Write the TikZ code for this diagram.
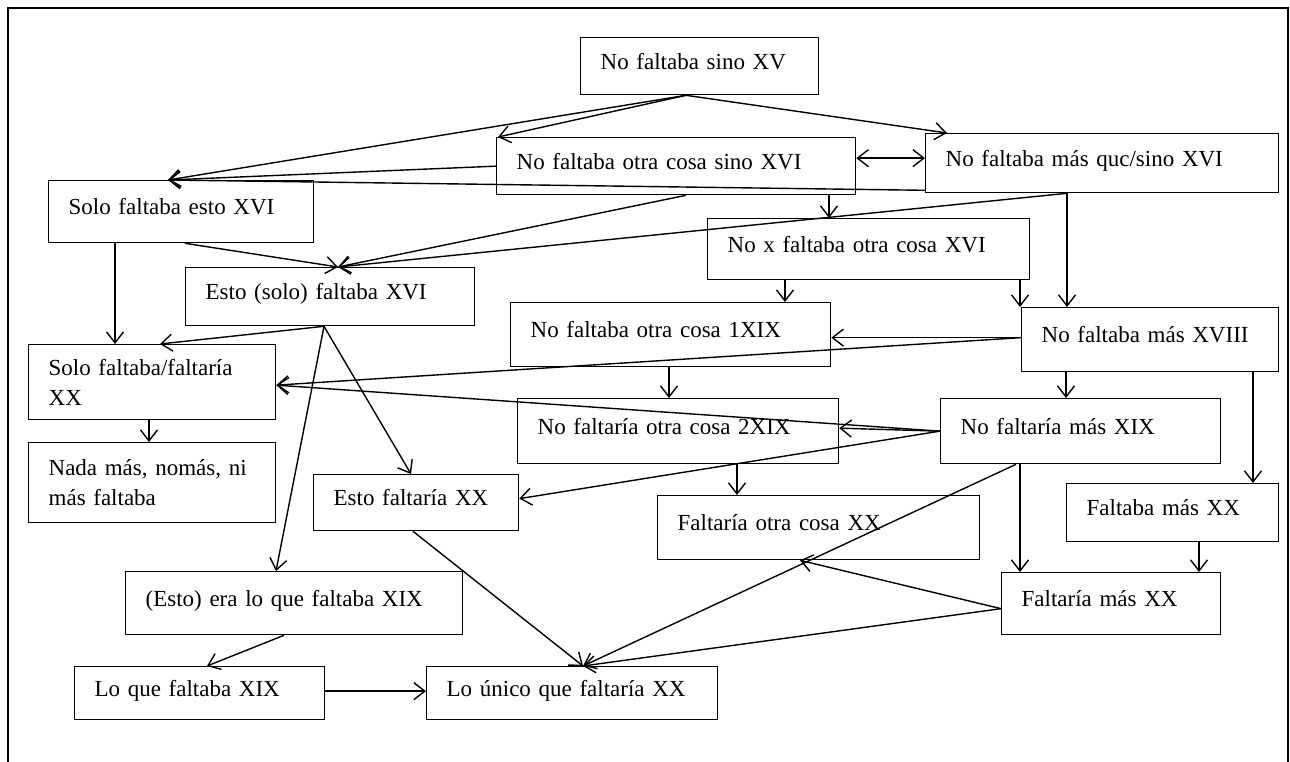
\documentclass[tikz,border=0pt]{standalone}
\usepackage{fontspec}
\setmainfont{Liberation Serif}
\usetikzlibrary{arrows.meta, positioning}

\tikzset{
  caja/.style={draw, line width=1.3pt, rectangle, anchor=north west, inner xsep=20pt, inner ysep=0pt, align=left, font=\fontsize{23}{30}\selectfont},
  linea/.style={caja, text height=16pt, text depth=10pt},
  flecha/.style={line width=1.4pt, -{Straight Barb[length=11pt, width=17pt]}},
}

\begin{document}
\begin{tikzpicture}[x=1pt, y=-1pt]
\useasboundingbox (0,0) rectangle (1290,762);
\draw[line width=1.6pt] (8,762) -- (8,8) -- (1288,8) -- (1288,762);

\node[linea, minimum width=238pt, minimum height=57pt, text width=198pt] (xv) at (580,37) {No faltaba sino XV};
\node[linea, minimum width=359pt, minimum height=57pt, text width=319pt] (otrasino) at (496,137) {No faltaba otra cosa sino XVI};
\node[linea, minimum width=353pt, minimum height=59pt, text width=313pt] (masque) at (925,133) {No faltaba más quc/sino XVI};
\node[linea, minimum width=265pt, minimum height=62pt, text width=225pt] (soloesto) at (48,180) {Solo faltaba esto XVI};
\node[linea, minimum width=322pt, minimum height=61pt, text width=282pt] (nox) at (707,218) {No x faltaba otra cosa XVI};
\node[linea, minimum width=289pt, minimum height=58pt, text width=249pt] (estosolo) at (185,267) {Esto (solo) faltaba XVI};
\node[linea, minimum width=320pt, minimum height=64pt, text width=280pt] (otra1) at (510,302) {No faltaba otra cosa 1XIX};
\node[linea, minimum width=257pt, minimum height=64pt, text width=217pt] (mas18) at (1021,307) {No faltaba más XVIII};
\node[caja, minimum width=247pt, minimum height=75pt, text width=207pt] (solofalt) at (28,344) {Solo faltaba/faltaría\\XX};
\node[linea, minimum width=321pt, minimum height=65pt, text width=281pt] (otra2) at (517,398) {No faltaría otra cosa 2XIX};
\node[linea, minimum width=280pt, minimum height=65pt, text width=240pt] (nomas19) at (940,398) {No faltaría más XIX};
\node[caja, minimum width=247pt, minimum height=80pt, text width=207pt] (nada) at (28,442) {Nada más, nomás, ni\\más faltaba};
\node[linea, minimum width=205pt, minimum height=56pt, text width=165pt] (estofalt) at (313,474) {Esto faltaría XX};
\node[linea, minimum width=212pt, minimum height=58pt, text width=172pt] (faltaba20) at (1066,483) {Faltaba más XX};
\node[linea, minimum width=322pt, minimum height=64pt, text width=282pt] (otracosa) at (657,495) {Faltaría otra cosa XX};
\node[linea, minimum width=337pt, minimum height=63pt, text width=297pt] (eralo) at (125,571) {(Esto) era lo que faltaba XIX};
\node[linea, minimum width=219pt, minimum height=62pt, text width=179pt] (faltria) at (1001,572) {Faltaría más XX};
\node[linea, minimum width=250pt, minimum height=53pt, text width=210pt] (loque) at (74,666) {Lo que faltaba XIX};
\node[linea, minimum width=291pt, minimum height=53pt, text width=251pt] (unico) at (426,666) {Lo único que faltaría XX};

% puntos de salida y llegada
\coordinate (xvS) at ([xshift=106pt]xv.south west);
\coordinate (soloN) at ([xshift=120pt]soloesto.north west);
\coordinate (estoN) at ([xshift=153pt]estosolo.north west);
\coordinate (estoS) at ([xshift=139pt]estosolo.south west);
\coordinate (masqueS) at ([xshift=142pt]masque.south west);
\coordinate (mas18W) at ([yshift=2pt]mas18.west);
\coordinate (solofaltE) at ([yshift=-3pt]solofalt.east);
\coordinate (unicoN) at ([xshift=157pt]unico.north west);
\coordinate (faltriaW) at ([yshift=-5pt]faltria.west);

\path[flecha]
(xvS) edge ([xshift=2pt]otrasino.north west)
(xvS) edge (soloN)
(xvS) edge ([xshift=22pt]masque.north west)
(otrasino.west) edge (soloN)
([yshift=3pt]masque.south west) edge (soloN)
([xshift=190pt]otrasino.south west) edge (estoN)
(masqueS) edge (estoN)
([xshift=137pt]soloesto.south west) edge (estoN)
([xshift=333pt]otrasino.south west) edge ([xshift=333pt]otrasino.south west |- nox.north)
(masqueS) edge (masqueS |- mas18.north)
([xshift=78pt]nox.south west) edge ([xshift=78pt]nox.south west |- otra1.north)
([xshift=313pt]nox.south west) edge ([xshift=313pt]nox.south west |- mas18.north)
(mas18W) edge (mas18W -| otra1.east)
(mas18W) edge (solofaltE)
(nomas19.west) edge (solofaltE)
(nomas19.west) edge ([yshift=3pt]otra2.east)
(nomas19.west) edge ([yshift=4pt]estofalt.east)
([xshift=159pt]otra1.south west) edge ([xshift=159pt]otra1.south west |- otra2.north)
([xshift=220pt]otra2.south west) edge ([xshift=220pt]otra2.south west |- otracosa.north)
([xshift=45pt]mas18.south west) edge ([xshift=45pt]mas18.south west |- nomas19.north)
([xshift=232pt]mas18.south west) edge ([xshift=232pt]mas18.south west |- faltaba20.north)
([xshift=133pt]faltaba20.south west) edge ([xshift=133pt]faltaba20.south west |- faltria.north)
([xshift=80pt]nomas19.south west) edge ([xshift=80pt]nomas19.south west |- faltria.north)
(faltriaW) edge ([xshift=143pt]otracosa.south west)
(faltriaW) edge (unicoN)
([xshift=76pt]nomas19.south west) edge (unicoN)
([xshift=100pt]estofalt.south west) edge (unicoN)
(estoS) edge ([xshift=132pt]solofalt.north west)
(estoS) edge ([xshift=98pt]estofalt.north west)
(estoS) edge ([xshift=151pt]eralo.north west)
([xshift=67pt]soloesto.south west) edge ([xshift=67pt]soloesto.south west |- solofalt.north)
([xshift=121pt]solofalt.south west) edge ([xshift=121pt]solofalt.south west |- nada.north)
([xshift=159pt]eralo.south west) edge ([xshift=133pt]loque.north west)
([yshift=2pt]loque.east) edge ([yshift=2pt]loque.east -| unico.west);

\draw[line width=1.4pt, {Straight Barb[length=11pt, width=17pt]}-{Straight Barb[length=11pt, width=17pt]}]
([yshift=8pt]otrasino.east) -- ([yshift=8pt]otrasino.east -| masque.west);
\end{tikzpicture}
\end{document}
